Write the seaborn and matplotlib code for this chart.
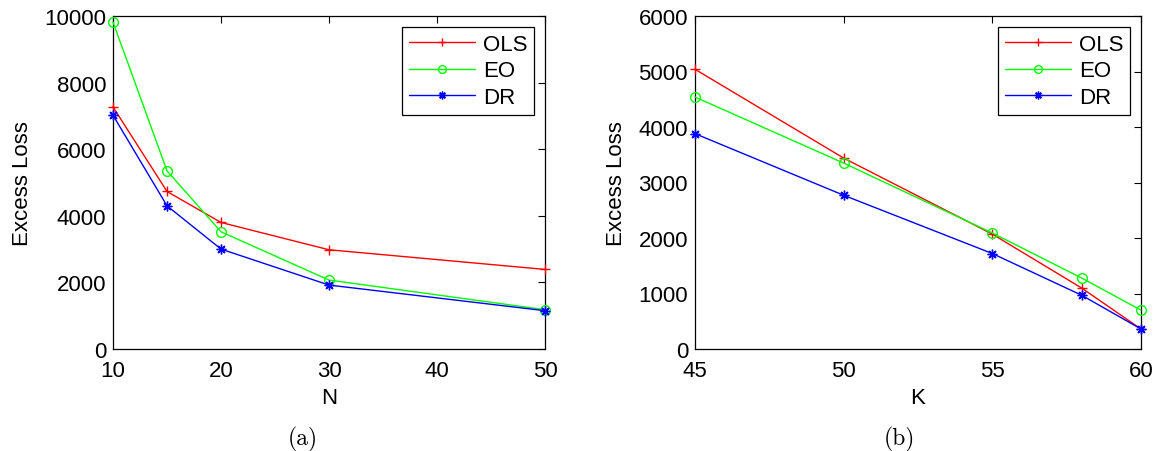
import numpy as np
import pandas as pd
import matplotlib
matplotlib.use("Agg")
import matplotlib.pyplot as plt
import seaborn as sns

# Panel (a): excess loss versus N
n_values = [10, 15, 20, 30, 50]
ols_n = [7270, 4730, 3800, 2980, 2390]
eo_n = [9820, 5350, 3520, 2070, 1180]
dr_n = [7020, 4300, 3000, 1920, 1150]

# Panel (b): excess loss versus K
k_values = [45, 50, 55, 58, 60]
ols_k = [5040, 3440, 2070, 1100, 360]
eo_k = [4540, 3350, 2090, 1280, 700]
dr_k = [3880, 2770, 1720, 970, 360]

methods = ["OLS", "EO", "DR"]
palette = {"OLS": "#ff0000", "EO": "#00ff00", "DR": "#0000ff"}
markers = {"OLS": "+", "EO": "o", "DR": (8, 2, 0)}
msizes = {"OLS": 7.5, "EO": 7, "DR": 7}

sns.set_style("white")
plt.rcParams["font.family"] = ["Liberation Sans", "DejaVu Sans"]
for key in ["text.color", "axes.labelcolor", "xtick.color", "ytick.color"]:
    plt.rcParams[key] = "black"


def long_frame(x, series, xname):
    rows = []
    for name, vals in zip(methods, series):
        for xv, yv in zip(x, vals):
            rows.append({xname: xv, "Excess Loss": yv, "method": name})
    return pd.DataFrame(rows)


W, H = 1155, 452
fig = plt.figure(figsize=(W / 100, H / 100), dpi=100)
ax1 = fig.add_axes([113 / W, 1 - 350 / H, (545 - 113) / W, (350 - 17) / H])
ax2 = fig.add_axes([695 / W, 1 - 350 / H, (1141 - 695) / W, (350 - 17) / H])

panels = [
    (ax1, long_frame(n_values, [ols_n, eo_n, dr_n], "N"), "N",
     (10, 50), [10, 20, 30, 40, 50], (0, 10000), np.arange(0, 10001, 2000)),
    (ax2, long_frame(k_values, [ols_k, eo_k, dr_k], "K"), "K",
     (45, 60), [45, 50, 55, 60], (0, 6000), np.arange(0, 6001, 1000)),
]

for ax, df, xname, xlim, xticks, ylim, yticks in panels:
    for name in methods:
        sub = df[df["method"] == name]
        sns.lineplot(
            data=sub, x=xname, y="Excess Loss", ax=ax, label=name,
            color=palette[name], marker=markers[name], markersize=msizes[name],
            markerfacecolor="none" if name == "EO" else palette[name],
            markeredgecolor=palette[name], markeredgewidth=1.0,
            linewidth=1.0, clip_on=False, zorder=3,
        )
    ax.set_xlim(*xlim)
    ax.set_ylim(*ylim)
    ax.set_xticks(xticks)
    ax.set_yticks(yticks)
    ax.tick_params(axis="both", which="both", direction="in", length=5, width=0.8,
                   top=True, right=True, labelsize=16)
    ax.tick_params(axis="x", pad=8)
    ax.tick_params(axis="y", pad=5)
    for sp in ax.spines.values():
        sp.set_color("black")
        sp.set_linewidth(0.9)
    ax.set_xlabel(xname, fontsize=16, labelpad=4)
    ax.set_ylabel("Excess Loss", fontsize=16, labelpad=8)
    leg = ax.legend(loc="upper right", fontsize=16, frameon=True, fancybox=False,
                    edgecolor="black", framealpha=1, borderpad=0.3,
                    handlelength=3.0, handletextpad=0.33, labelspacing=0.25,
                    borderaxespad=0.5, markerscale=0.8)
    leg.get_frame().set_linewidth(0.9)

fig.text(303 / W, 1 - 439 / H, "(a)", ha="center", va="center", fontsize=17,
         family=["cmr10", "DejaVu Serif"])
fig.text(899 / W, 1 - 439 / H, "(b)", ha="center", va="center", fontsize=17,
         family=["cmr10", "DejaVu Serif"])

fig.savefig("out.png", dpi=100, facecolor="white")
